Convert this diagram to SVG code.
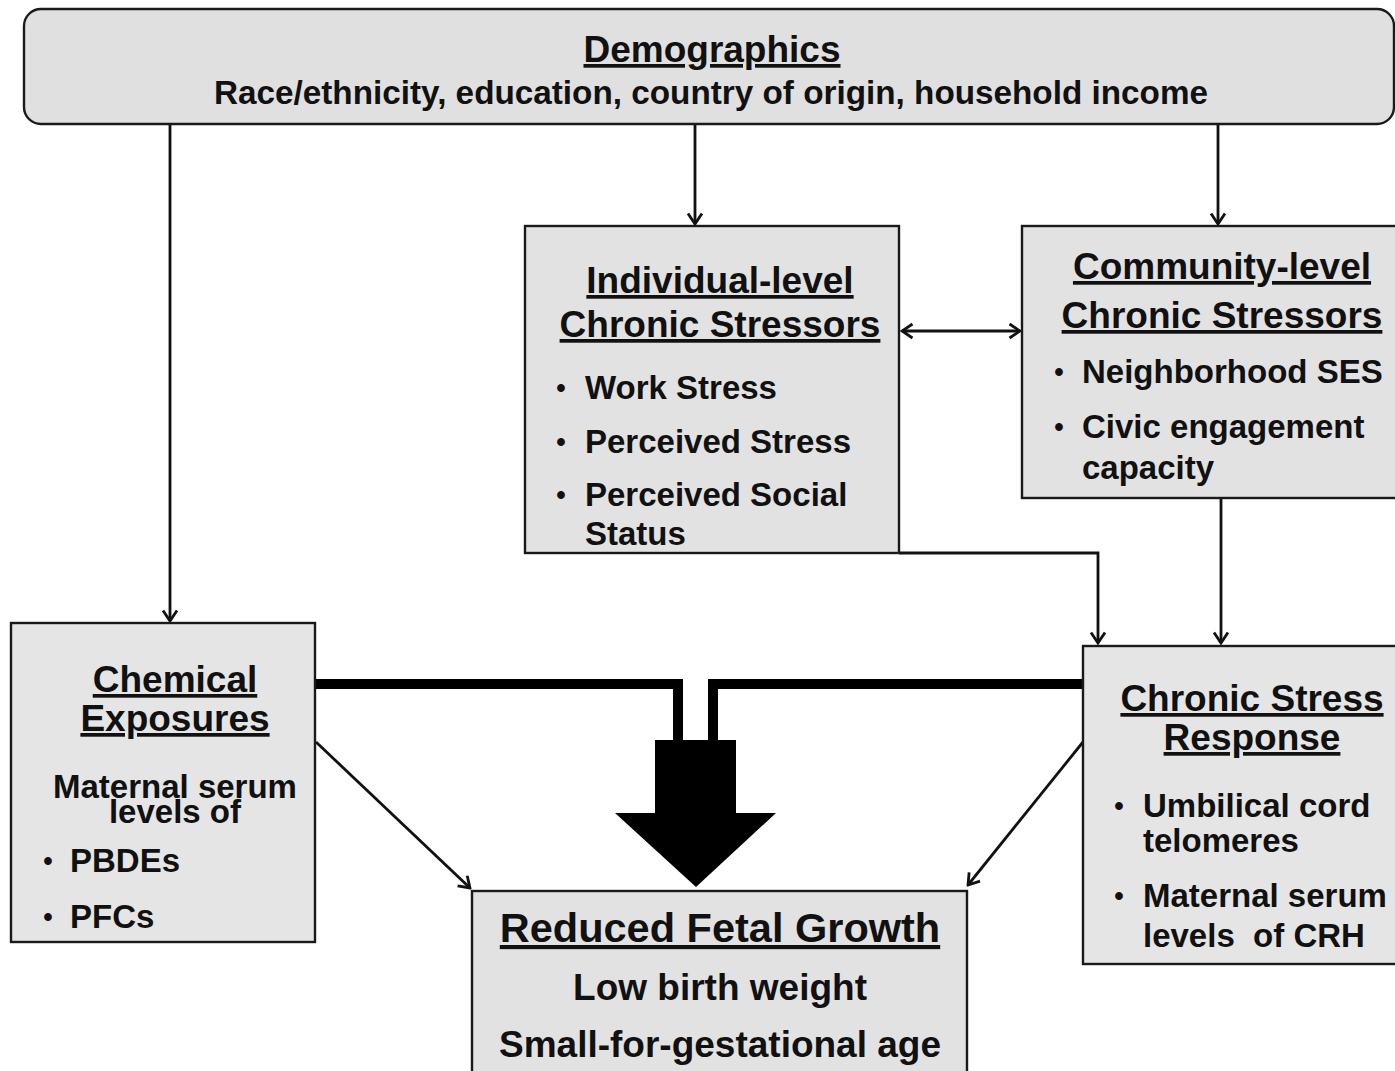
<svg xmlns="http://www.w3.org/2000/svg" width="1395" height="1071" viewBox="0 0 1395 1071">
<style>
.box{fill:#e2e2e2;stroke:#1a1a1a;stroke-width:2.4}
.t{font-family:"Liberation Sans",Arial,sans-serif;font-weight:bold;fill:#111}
.h{font-size:37px;text-decoration:underline;text-anchor:middle}
.b{font-size:33px}
.c{text-anchor:middle}
.bul{font-size:27px;text-anchor:middle}
.ln{fill:none;stroke:#111;stroke-width:2.8}
.thick{fill:none;stroke:#000;stroke-width:10;stroke-linejoin:miter}
</style>
<defs>
<marker id="ah" viewBox="-13 -9 15 18" refX="0" refY="0" markerWidth="15" markerHeight="18" markerUnits="userSpaceOnUse" orient="auto-start-reverse">
<path d="M-10.5,-7 L0,0 L-10.5,7" fill="none" stroke="#111" stroke-width="2.8"/>
</marker>
</defs>
<rect width="1395" height="1071" fill="#ffffff"/>

<g id="connectors">
<line class="ln" x1="170" y1="125" x2="170" y2="621" marker-end="url(#ah)"/>
<line class="ln" x1="695" y1="125" x2="695" y2="224" marker-end="url(#ah)"/>
<line class="ln" x1="1218" y1="125" x2="1218" y2="224" marker-end="url(#ah)"/>
<line class="ln" x1="902" y1="331" x2="1020" y2="331" marker-start="url(#ah)" marker-end="url(#ah)"/>
<polyline class="ln" points="899,553 1098,553 1098,643" marker-end="url(#ah)"/>
<line class="ln" x1="1221" y1="499" x2="1221" y2="643" marker-end="url(#ah)"/>
<line class="ln" x1="316" y1="742" x2="470" y2="888" marker-end="url(#ah)"/>
<line class="ln" x1="1083" y1="742" x2="968" y2="885" marker-end="url(#ah)"/>
<polyline class="thick" points="316,684 678,684 678,742"/>
<polyline class="thick" points="713,742 713,684 1083,684"/>
<polygon points="655,740 736,740 736,813 776,813 696,887 615,813 655,813" fill="#000"/>
</g>

<g id="demographics">
<rect x="24" y="9" width="1370" height="115" rx="17" ry="17" fill="#e0e0e0" stroke="#1a1a1a" stroke-width="2.4"/>
<text class="t h" x="712" y="62">Demographics</text>
<text class="t b c" x="711" y="104" textLength="994" lengthAdjust="spacingAndGlyphs">Race/ethnicity, education, country of origin, household income</text>
</g>

<g id="individual">
<rect class="box" x="525" y="226" width="374" height="327"/>
<text class="t h" x="720" y="293">Individual-level</text>
<text class="t h" x="720" y="337">Chronic Stressors</text>
<text class="t bul" x="561" y="397">•</text>
<text class="t b" x="585" y="399">Work Stress</text>
<text class="t bul" x="561" y="451">•</text>
<text class="t b" x="585" y="453">Perceived Stress</text>
<text class="t bul" x="561" y="504">•</text>
<text class="t b" x="585" y="506">Perceived Social</text>
<text class="t b" x="585" y="545">Status</text>
</g>

<g id="community">
<rect class="box" x="1022" y="226" width="380" height="272"/>
<text class="t h" x="1222" y="279">Community-level</text>
<text class="t h" x="1222" y="328">Chronic Stressors</text>
<text class="t bul" x="1059" y="381">•</text>
<text class="t b" x="1082" y="383">Neighborhood SES</text>
<text class="t bul" x="1059" y="436">•</text>
<text class="t b" x="1082" y="438">Civic engagement</text>
<text class="t b" x="1082" y="479">capacity</text>
</g>

<g id="chemical">
<rect class="box" x="11" y="623" width="304" height="319" style="fill:#e5e5e5"/>
<text class="t h" x="175" y="692">Chemical</text>
<text class="t h" x="175" y="731">Exposures</text>
<text class="t b c" x="175" y="798">Maternal serum</text>
<text class="t b c" x="175" y="823">levels of</text>
<text class="t bul" x="48" y="870">•</text>
<text class="t b" x="70" y="872">PBDEs</text>
<text class="t bul" x="48" y="926">•</text>
<text class="t b" x="70" y="928">PFCs</text>
</g>

<g id="stress-response">
<rect class="box" x="1083" y="646" width="320" height="318" style="fill:#e5e5e5"/>
<text class="t h" x="1252" y="711">Chronic Stress</text>
<text class="t h" x="1252" y="750">Response</text>
<text class="t bul" x="1119" y="815">•</text>
<text class="t b" x="1143" y="817">Umbilical cord</text>
<text class="t b" x="1143" y="852">telomeres</text>
<text class="t bul" x="1119" y="905">•</text>
<text class="t b" x="1143" y="907">Maternal serum</text>
<text class="t b" x="1143" y="947" xml:space="preserve">levels  of CRH</text>
</g>

<g id="fetal-growth">
<rect class="box" x="472" y="891" width="495" height="190"/>
<text class="t h" x="720" y="942" style="font-size:41.5px">Reduced Fetal Growth</text>
<text class="t c" x="720" y="1000" style="font-size:37px">Low birth weight</text>
<text class="t c" x="720" y="1057" style="font-size:37px">Small-for-gestational age</text>
</g>
</svg>
